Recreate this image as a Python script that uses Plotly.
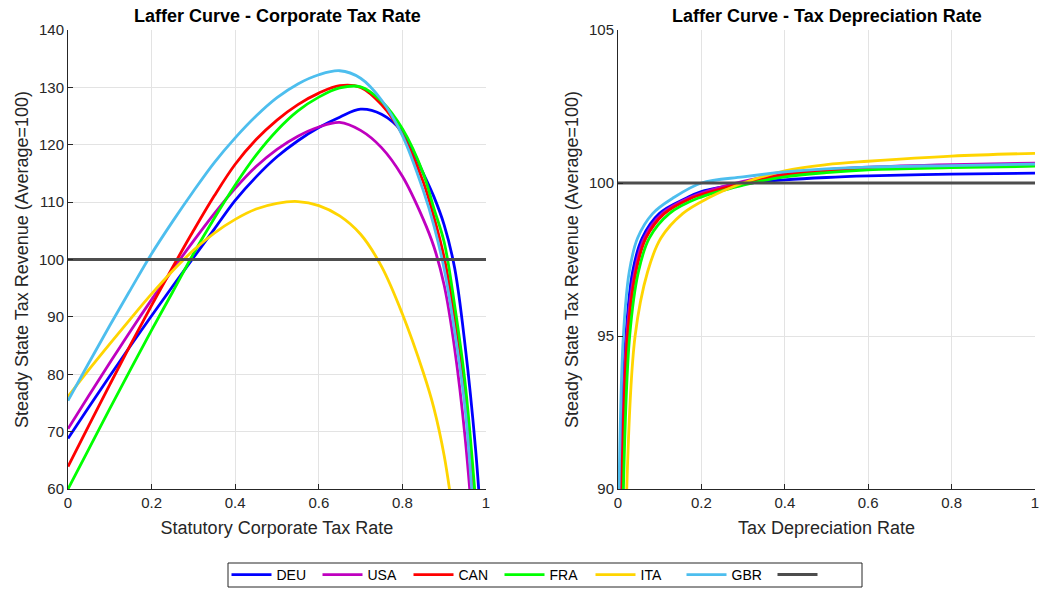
import plotly.graph_objects as go

# ---------------- data ----------------
countries = ["DEU", "USA", "CAN", "FRA", "ITA", "GBR"]
colors = ["#0000FF", "#BF00BF", "#FF0000", "#00FF00", "#FFD500", "#4DBEEE"]

# Left panel: Laffer curve vs statutory corporate tax rate
corp_x = [0, 0.05, 0.1, 0.15, 0.2, 0.25, 0.3, 0.35, 0.4, 0.45, 0.5, 0.55, 0.6, 0.65, 0.7, 0.75, 0.8, 0.85]
deu_cy = [68.8, 74.3, 79.7, 85.0, 90.2, 95.3, 100.3, 105.3, 110.3, 114.4, 117.9, 120.7, 123.0, 124.8, 126.2, 125.3, 122.2, 115.0]
usa_cy = [70.5, 76.3, 82.0, 87.6, 93.0, 98.2, 103.2, 108.0, 112.4, 116.2, 119.2, 121.5, 123.1, 123.9, 122.5, 119.5, 114.5, 107.0]
can_cy = [63.9, 71.1, 78.2, 85.2, 92.0, 98.6, 105.0, 111.1, 116.6, 120.9, 124.3, 127.0, 129.0, 130.3, 130.0, 127.0, 121.8, 113.5]
fra_cy = [60.0, 67.0, 74.0, 80.9, 87.7, 94.3, 101.0, 107.2, 113.0, 118.2, 122.5, 125.9, 128.3, 129.9, 130.1, 127.6, 122.8, 115.0]
ita_cy = [76.1, 80.8, 85.3, 89.7, 94.0, 98.0, 101.6, 104.6, 107.0, 108.8, 109.8, 110.1, 109.4, 107.6, 104.4, 98.8, 90.5, 80.3]
gbr_cy = [75.4, 82.0, 88.5, 94.8, 101.0, 106.6, 111.9, 116.9, 121.2, 125.0, 128.2, 130.6, 132.2, 132.9, 131.6, 127.8, 121.6, 112.0]
# steep tails, read at finer spacing
tail_x = [0.875, 0.9, 0.925, 0.95, 0.975, 0.99]
deu_tail = [111.0, 106.0, 98.5, 85.0, 67.0, 52.0]
usa_tail = [102.3, 95.5, 84.5, 69.0, 47.0, None]
can_tail = [107.5, 100.3, 90.0, 77.0, 55.0, None]
fra_tail = [109.0, 103.0, 92.0, 78.5, 58.0, None]
ita_tail = [74.2, 65.8, 53.5, None, None, None]
gbr_tail = [106.0, 98.3, 87.5, 74.0, 50.0, None]

# Right panel: Laffer curve vs tax depreciation rate
deu_dx = [0.0056, 0.019, 0.035, 0.058, 0.099, 0.163, 0.2, 0.3, 0.4, 0.5, 0.6, 0.8, 1.0]
deu_dy = [90, 95, 97.1, 98.2, 99.0, 99.5, 99.72, 99.97, 100.1, 100.18, 100.23, 100.29, 100.32]
usa_dx = [0.008, 0.021, 0.040, 0.063, 0.106, 0.168, 0.3, 0.4, 0.5, 0.6, 0.8, 1.0]
usa_dy = [90, 95, 97.1, 98.2, 99.0, 99.5, 100.05, 100.3, 100.44, 100.52, 100.6, 100.65]
can_dx = [0.009, 0.023, 0.043, 0.067, 0.111, 0.175, 0.2, 0.3, 0.4, 0.5, 0.6, 0.8, 1.0]
can_dy = [90, 95, 97.1, 98.2, 99.0, 99.5, 99.62, 100.0, 100.27, 100.39, 100.46, 100.53, 100.57]
fra_dx = [0.013, 0.028, 0.049, 0.075, 0.123, 0.191, 0.3, 0.4, 0.5, 0.6, 0.8, 1.0]
fra_dy = [90, 95, 97.1, 98.2, 99.0, 99.5, 99.93, 100.2, 100.34, 100.43, 100.5, 100.55]
ita_dx = [0.021, 0.041, 0.071, 0.103, 0.155, 0.215, 0.3, 0.4, 0.5, 0.6, 0.8, 1.0]
ita_dy = [90, 95, 97.1, 98.2, 99.0, 99.5, 100.0, 100.4, 100.6, 100.71, 100.88, 100.97]
gbr_dx = [0.0024, 0.0128, 0.027, 0.047, 0.083, 0.131, 0.2, 0.3, 0.4, 0.5, 0.6, 0.8, 1.0]
gbr_dy = [90, 95, 97.1, 98.2, 99.0, 99.5, 100.0, 100.2, 100.36, 100.46, 100.52, 100.57, 100.62]

ref_x = [0, 1]
ref_y = [100, 100]

x_ticks = [0, 0.2, 0.4, 0.6, 0.8, 1]
x_ticklabels = ["0", "0.2", "0.4", "0.6", "0.8", "1"]
y1_ticks = [60, 70, 80, 90, 100, 110, 120, 130, 140]
y2_ticks = [90, 95, 100, 105]


def join(body, tail):
    xs = list(corp_x)
    ys = list(body)
    for tx, ty in zip(tail_x, tail):
        if ty is not None:
            xs.append(tx)
            ys.append(ty)
    return xs, ys


corp = [join(deu_cy, deu_tail), join(usa_cy, usa_tail), join(can_cy, can_tail),
        join(fra_cy, fra_tail), join(ita_cy, ita_tail), join(gbr_cy, gbr_tail)]
depr = [(deu_dx, deu_dy), (usa_dx, usa_dy), (can_dx, can_dy),
        (fra_dx, fra_dy), (ita_dx, ita_dy), (gbr_dx, gbr_dy)]

# ---------------- figure ----------------
FONT = "Liberation Sans, Arial, Helvetica, sans-serif"
AXC = "#262626"
GRID = "#e3e3e3"
REFC = "#4D4D4D"
LW = 2.8

fig = go.Figure()
for name, col, (cx, cy) in zip(countries, colors, corp):
    fig.add_trace(go.Scatter(x=cx, y=cy, mode="lines", name=name,
                             line=dict(color=col, width=LW, shape="spline", smoothing=1),
                             xaxis="x", yaxis="y", legendgroup=name))
fig.add_trace(go.Scatter(x=ref_x, y=ref_y, mode="lines", name=" ",
                         line=dict(color=REFC, width=3), xaxis="x", yaxis="y",
                         legendgroup="ref"))
for name, col, (dx, dy) in zip(countries, colors, depr):
    fig.add_trace(go.Scatter(x=dx, y=dy, mode="lines", name=name, showlegend=False,
                             line=dict(color=col, width=LW, shape="spline", smoothing=1),
                             xaxis="x2", yaxis="y2", legendgroup=name))
fig.add_trace(go.Scatter(x=ref_x, y=ref_y, mode="lines", name=" ", showlegend=False,
                         line=dict(color=REFC, width=3), xaxis="x2", yaxis="y2",
                         legendgroup="ref"))

W, H = 1039, 590
L, R, T, B = 68, 4, 30, 101
pw = W - L - R
ph = H - T - B
d1 = [0, (486 - 68) / pw]
d2 = [(618 - 68) / pw, 1]


def px_x(p):
    return (p - L) / pw


def px_y(p):
    return (H - B - p) / ph


axis_common = dict(showline=True, linecolor=AXC, linewidth=1, mirror=False,
                   ticks="inside", ticklen=5, tickcolor=AXC, tickwidth=1,
                   showgrid=True, gridcolor=GRID, gridwidth=1, zeroline=False,
                   automargin=False, ticklabeloverflow="allow",
                   tickfont=dict(family=FONT, size=15, color=AXC))
xt = dict(font=dict(size=18, color=AXC), standoff=11)
yt = dict(font=dict(size=18, color=AXC), standoff=5)

fig.update_layout(
    width=W, height=H,
    margin=dict(l=L, r=R, t=T, b=B, autoexpand=False),
    plot_bgcolor="white", paper_bgcolor="white",
    font=dict(family=FONT, color=AXC),
    xaxis=dict(domain=d1, range=[0, 1], tickvals=x_ticks, ticktext=x_ticklabels,
               title=dict(text="Statutory Corporate Tax Rate", **xt), anchor="y", **axis_common),
    yaxis=dict(range=[60, 140], tickvals=y1_ticks, anchor="x",
               title=dict(text="Steady State Tax Revenue (Average=100)", **yt), **axis_common),
    xaxis2=dict(domain=d2, range=[0, 1], tickvals=x_ticks, ticktext=x_ticklabels,
                title=dict(text="Tax Depreciation Rate", **xt), anchor="y2", **axis_common),
    yaxis2=dict(range=[90, 105], tickvals=y2_ticks, anchor="x2",
                title=dict(text="Steady State Tax Revenue (Average=100)", **yt), **axis_common),
    showlegend=True,
    legend=dict(orientation="h", x=px_x(545), xanchor="center",
                y=px_y(575), yanchor="middle",
                borderwidth=0, bgcolor="rgba(0,0,0,0)",
                font=dict(family=FONT, size=14, color="black"),
                itemwidth=40, entrywidth=36, entrywidthmode="pixels", tracegroupgap=0),
    shapes=[dict(type="rect", xref="paper", yref="paper",
                 x0=px_x(228), x1=px_x(862), y0=px_y(587), y1=px_y(563),
                 line=dict(color=AXC, width=1), fillcolor="white", layer="below")],
    annotations=[
        dict(text="<b>Laffer Curve - Corporate Tax Rate</b>", xref="x domain", yref="paper",
             x=0.5, y=px_y(16), xanchor="center", yanchor="middle", showarrow=False,
             font=dict(family=FONT, size=18, color="black")),
        dict(text="<b>Laffer Curve - Tax Depreciation Rate</b>", xref="x2 domain", yref="paper",
             x=0.5, y=px_y(16), xanchor="center", yanchor="middle", showarrow=False,
             font=dict(family=FONT, size=18, color="black")),
    ],
)

fig.write_html("out.html", config={"displayModeBar": False},
               post_script="document.body.style.margin='0';document.body.style.padding='0';")
